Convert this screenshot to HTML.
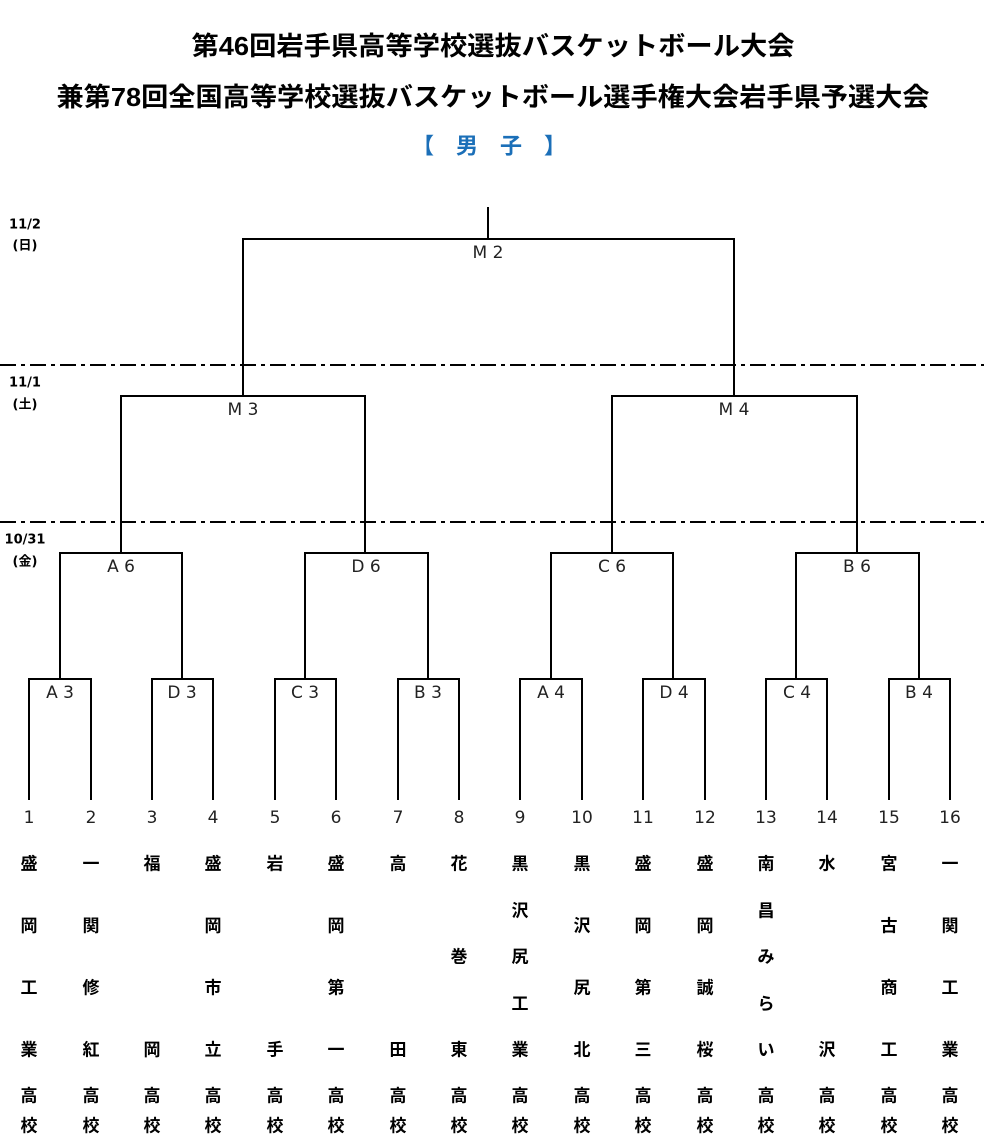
<!DOCTYPE html>
<html><head><meta charset="utf-8"><style>
html,body{margin:0;padding:0;background:#fff;}
svg{display:block;}
.t{font-family:"Liberation Sans","Noto Sans CJK JP",sans-serif;font-weight:bold;}
.n{font-family:"DejaVu Sans","Liberation Sans",sans-serif;font-size:17px;fill:#222;}
.c{font-family:"Liberation Sans","Noto Sans CJK JP",sans-serif;font-weight:bold;font-size:17px;}
.d{font-family:"DejaVu Sans","Noto Sans CJK JP",sans-serif;font-weight:bold;font-size:13px;}
</style></head><body>
<svg width="984" height="1148" viewBox="0 0 984 1148" xmlns="http://www.w3.org/2000/svg">
<text class="t" x="493" y="46" font-size="26" text-anchor="middle" dominant-baseline="central" textLength="603" lengthAdjust="spacingAndGlyphs">第46回岩手県高等学校選抜バスケットボール大会</text>
<text class="t" x="493" y="97" font-size="26" text-anchor="middle" dominant-baseline="central" textLength="873" lengthAdjust="spacingAndGlyphs">兼第78回全国高等学校選抜バスケットボール選手権大会岩手県予選大会</text>
<text class="t" x="489" y="146" font-size="22" fill="#1b6fb8" text-anchor="middle" dominant-baseline="central" xml:space="preserve">【　男　子　】</text>

<text class="d" x="25" y="225" text-anchor="middle" dominant-baseline="central">11/2</text>
<text class="d" x="25" y="246" text-anchor="middle" dominant-baseline="central">(日)</text>
<text class="d" x="25" y="383" text-anchor="middle" dominant-baseline="central">11/1</text>
<text class="d" x="25" y="405" text-anchor="middle" dominant-baseline="central">(土)</text>
<text class="d" x="25" y="540" text-anchor="middle" dominant-baseline="central">10/31</text>
<text class="d" x="25" y="562" text-anchor="middle" dominant-baseline="central">(金)</text>

<g stroke="#000" stroke-width="2" stroke-dasharray="16,5,4,5">
<line x1="0" y1="365" x2="984" y2="365"/>
<line x1="0" y1="522" x2="984" y2="522"/>
</g>

<g fill="none" stroke="#000" stroke-width="2">
<line x1="488" y1="207" x2="488" y2="239"/>
<polyline points="243,396 243,239 734,239 734,396"/>
<polyline points="121,553 121,396 365,396 365,553"/>
<polyline points="612,553 612,396 857,396 857,553"/>
<polyline points="60,679 60,553 182,553 182,679"/>
<polyline points="305,679 305,553 428,553 428,679"/>
<polyline points="551,679 551,553 673,553 673,679"/>
<polyline points="796,679 796,553 919,553 919,679"/>
<polyline points="29,800 29,679 91,679 91,800"/>
<polyline points="152,800 152,679 213,679 213,800"/>
<polyline points="275,800 275,679 336,679 336,800"/>
<polyline points="398,800 398,679 459,679 459,800"/>
<polyline points="520,800 520,679 582,679 582,800"/>
<polyline points="643,800 643,679 705,679 705,800"/>
<polyline points="766,800 766,679 827,679 827,800"/>
<polyline points="889,800 889,679 950,679 950,800"/>
</g>

<g class="n" text-anchor="middle" dominant-baseline="central">
<text x="488" y="253">M 2</text>
<text x="243" y="410">M 3</text>
<text x="734" y="410">M 4</text>
<text x="121" y="567">A 6</text>
<text x="366" y="567">D 6</text>
<text x="612" y="567">C 6</text>
<text x="857" y="567">B 6</text>
<text x="60" y="693">A 3</text>
<text x="182" y="693">D 3</text>
<text x="305" y="693">C 3</text>
<text x="428" y="693">B 3</text>
<text x="551" y="693">A 4</text>
<text x="674" y="693">D 4</text>
<text x="797" y="693">C 4</text>
<text x="919" y="693">B 4</text>
<text x="29" y="818">1</text><text x="91" y="818">2</text><text x="152" y="818">3</text><text x="213" y="818">4</text>
<text x="275" y="818">5</text><text x="336" y="818">6</text><text x="398" y="818">7</text><text x="459" y="818">8</text>
<text x="520" y="818">9</text><text x="582" y="818">10</text><text x="643" y="818">11</text><text x="705" y="818">12</text>
<text x="766" y="818">13</text><text x="827" y="818">14</text><text x="889" y="818">15</text><text x="950" y="818">16</text>
</g>

<g class="c" text-anchor="middle" dominant-baseline="central">
<text x="29" y="864">盛</text><text x="29" y="926">岡</text><text x="29" y="988">工</text><text x="29" y="1050">業</text>
<text x="91" y="864">一</text><text x="91" y="926">関</text><text x="91" y="988">修</text><text x="91" y="1050">紅</text>
<text x="152" y="864">福</text><text x="152" y="1050">岡</text>
<text x="213" y="864">盛</text><text x="213" y="926">岡</text><text x="213" y="988">市</text><text x="213" y="1050">立</text>
<text x="275" y="864">岩</text><text x="275" y="1050">手</text>
<text x="336" y="864">盛</text><text x="336" y="926">岡</text><text x="336" y="988">第</text><text x="336" y="1050">一</text>
<text x="398" y="864">高</text><text x="398" y="1050">田</text>
<text x="459" y="864">花</text><text x="459" y="957">巻</text><text x="459" y="1050">東</text>
<text x="520" y="864">黒</text><text x="520" y="911">沢</text><text x="520" y="957">尻</text><text x="520" y="1004">工</text><text x="520" y="1050">業</text>
<text x="582" y="864">黒</text><text x="582" y="926">沢</text><text x="582" y="988">尻</text><text x="582" y="1050">北</text>
<text x="643" y="864">盛</text><text x="643" y="926">岡</text><text x="643" y="988">第</text><text x="643" y="1050">三</text>
<text x="705" y="864">盛</text><text x="705" y="926">岡</text><text x="705" y="988">誠</text><text x="705" y="1050">桜</text>
<text x="766" y="864">南</text><text x="766" y="911">昌</text><text x="766" y="957">み</text><text x="766" y="1004">ら</text><text x="766" y="1050">い</text>
<text x="827" y="864">水</text><text x="827" y="1050">沢</text>
<text x="889" y="864">宮</text><text x="889" y="926">古</text><text x="889" y="988">商</text><text x="889" y="1050">工</text>
<text x="950" y="864">一</text><text x="950" y="926">関</text><text x="950" y="988">工</text><text x="950" y="1050">業</text>
<text x="29" y="1096">高</text><text x="29" y="1126">校</text>
<text x="91" y="1096">高</text><text x="91" y="1126">校</text>
<text x="152" y="1096">高</text><text x="152" y="1126">校</text>
<text x="213" y="1096">高</text><text x="213" y="1126">校</text>
<text x="275" y="1096">高</text><text x="275" y="1126">校</text>
<text x="336" y="1096">高</text><text x="336" y="1126">校</text>
<text x="398" y="1096">高</text><text x="398" y="1126">校</text>
<text x="459" y="1096">高</text><text x="459" y="1126">校</text>
<text x="520" y="1096">高</text><text x="520" y="1126">校</text>
<text x="582" y="1096">高</text><text x="582" y="1126">校</text>
<text x="643" y="1096">高</text><text x="643" y="1126">校</text>
<text x="705" y="1096">高</text><text x="705" y="1126">校</text>
<text x="766" y="1096">高</text><text x="766" y="1126">校</text>
<text x="827" y="1096">高</text><text x="827" y="1126">校</text>
<text x="889" y="1096">高</text><text x="889" y="1126">校</text>
<text x="950" y="1096">高</text><text x="950" y="1126">校</text>
</g>
</svg>
</body></html>
